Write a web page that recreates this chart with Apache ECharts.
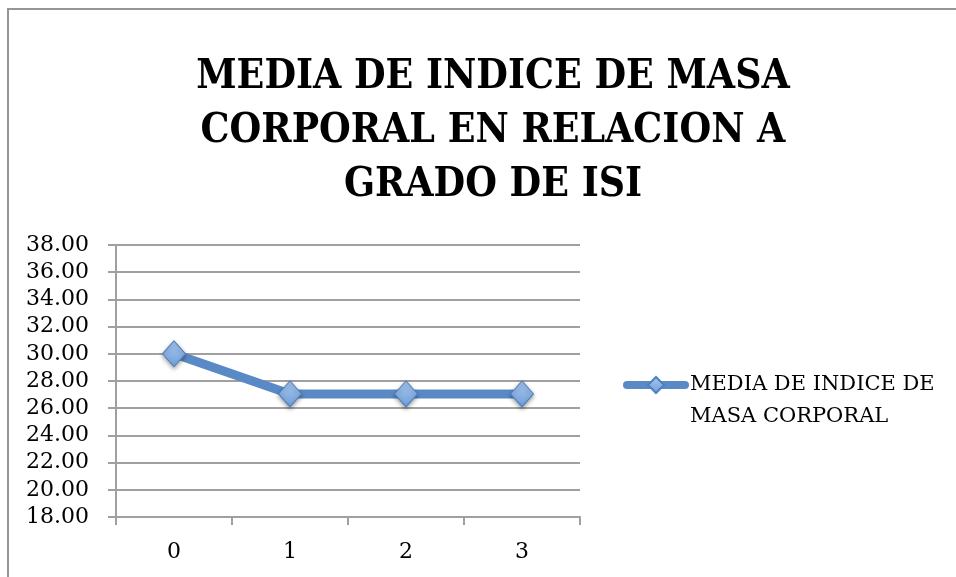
<!DOCTYPE html>
<html>
<head>
<meta charset="utf-8">
<script src="https://cdn.jsdelivr.net/npm/echarts@6/dist/echarts.min.js"></script>
<style>
  html, body { margin: 0; padding: 0; background: #fff; }
  #chart { width: 956px; height: 577px; }
</style>
</head>
<body>
<div id="chart"></div>
<script>
// datos
const categories = ['0', '1', '2', '3'];
const imcMedia = [30.0, 27.05, 27.05, 27.05];
const serieNombre = 'MEDIA DE INDICE DE MASA CORPORAL';
const yMin = 18, yMax = 38, yPaso = 2;

const serifCond = "'DejaVu Serif Condensed', 'DejaVu Serif', 'Liberation Serif', serif";
const serif = "'DejaVu Serif', 'Liberation Serif', serif";
const grisEje = '#a0a0a0';
const azul = '#5a8ac6';

const chart = echarts.init(document.getElementById('chart'));

chart.setOption({
  backgroundColor: '#fff',
  animation: false,
  title: {
    text: 'MEDIA DE INDICE DE MASA\nCORPORAL EN RELACION A\nGRADO DE ISI',
    left: 488,
    textAlign: 'center',
    top: 45,
    textStyle: {
      fontFamily: serifCond,
      fontWeight: 'bold',
      fontSize: 40.5,
      lineHeight: 54,
      color: '#000'
    }
  },
  graphic: [{
    type: 'rect',
    silent: true,
    shape: { x: 8, y: 9, width: 970, height: 600 },
    style: { fill: 'none', stroke: '#959595', lineWidth: 2 }
  }],
  legend: {
    left: 618,
    top: 332,
    orient: 'vertical',
    itemWidth: 58,
    itemHeight: 20,
    data: [serieNombre],
    // linea vacia arriba para que el icono quede a la altura de la primera linea
    formatter: () => ' \nMEDIA DE INDICE DE\nMASA CORPORAL',
    lineStyle: { width: 8, cap: 'round', color: azul },
    textStyle: {
      fontFamily: serif,
      fontSize: 21,
      lineHeight: 32,
      color: '#000'
    }
  },
  grid: {
    left: 116,
    right: 376,
    top: 245,
    bottom: 60,
    containLabel: false
  },
  xAxis: {
    type: 'category',
    data: categories,
    boundaryGap: true,
    axisLine: { show: true, lineStyle: { color: grisEje, width: 2 } },
    axisTick: { show: true, alignWithLabel: false, length: 8, lineStyle: { color: grisEje, width: 2 } },
    axisLabel: { fontFamily: serif, fontSize: 22, color: '#000', margin: 24 },
    splitLine: { show: false }
  },
  yAxis: {
    type: 'value',
    min: yMin,
    max: yMax,
    interval: yPaso,
    axisLine: { show: true, lineStyle: { color: grisEje, width: 2 } },
    axisTick: { show: true, length: 8, lineStyle: { color: grisEje, width: 2 } },
    axisLabel: {
      fontFamily: serif,
      fontSize: 22,
      color: '#000',
      margin: 27,
      formatter: v => v.toFixed(2)
    },
    splitLine: { show: true, lineStyle: { color: grisEje, width: 2 } }
  },
  series: [{
    name: serieNombre,
    type: 'line',
    data: imcMedia,
    symbol: 'diamond',
    symbolSize: [23, 26],
    showAllSymbol: true,
    lineStyle: { color: azul, width: 9, cap: 'round' },
    itemStyle: {
      color: new echarts.graphic.LinearGradient(0, 0, 0, 1, [
        { offset: 0, color: '#a9c8f0' },
        { offset: 1, color: '#6f9fd8' }
      ]),
      borderColor: '#4f7fbf',
      borderWidth: 1,
      shadowColor: 'rgba(0,0,0,0.35)',
      shadowBlur: 4,
      shadowOffsetY: 2
    }
  }]
});
</script>
</body>
</html>
